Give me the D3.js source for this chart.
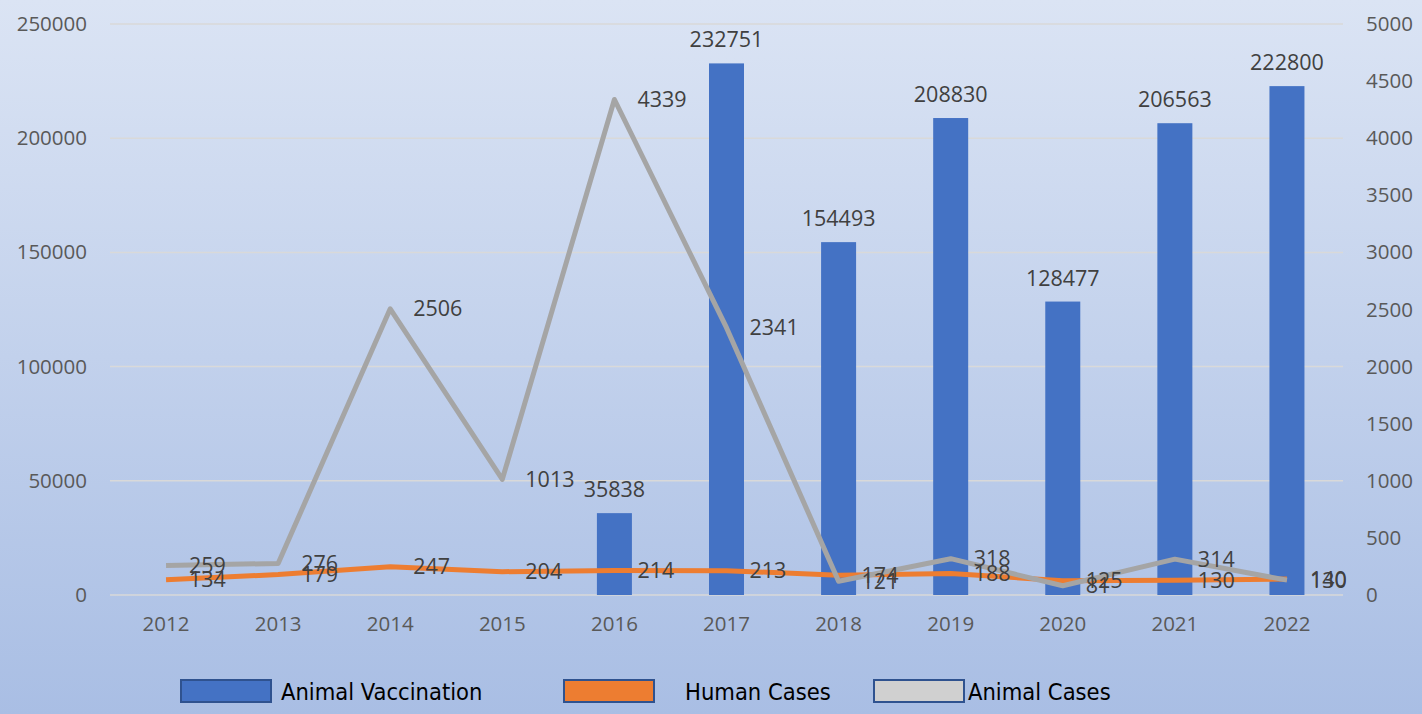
<!DOCTYPE html>
<html><head><meta charset="utf-8">
<script src="https://cdn.jsdelivr.net/npm/d3@7/dist/d3.min.js"></script>
<style>body{margin:0;padding:0;overflow:hidden}svg{display:block}</style>
</head><body>
<svg id="c" width="1422" height="714"></svg>
<script>
const years = ["2012","2013","2014","2015","2016","2017","2018","2019","2020","2021","2022"];
const animalVaccination = [null,null,null,null,35838,232751,154493,208830,128477,206563,222800];
const humanCases = [134,179,247,204,214,213,174,188,125,130,140];
const animalCases = [259,276,2506,1013,4339,2341,121,318,81,314,130];
const leftTicks = [0,50000,100000,150000,200000,250000];
const rightTicks = [0,500,1000,1500,2000,2500,3000,3500,4000,4500,5000];
const seriesNames = ["Animal Vaccination","Human Cases","Animal Cases"];

const svg = d3.select("#c");
const W = 1422, H = 714;
const defs = svg.append("defs");
const g = defs.append("linearGradient").attr("id","bg").attr("x1",0).attr("y1",0).attr("x2",0).attr("y2",1);
g.append("stop").attr("offset","0%").attr("stop-color","#dbe4f4");
g.append("stop").attr("offset","100%").attr("stop-color","#a9bee4");
svg.append("rect").attr("width",W).attr("height",H).attr("fill","url(#bg)");

const x = d3.scaleBand().domain(years).range([110,1343]);
const yL = d3.scaleLinear().domain([0,250000]).range([595,24]);
const yR = d3.scaleLinear().domain([0,5000]).range([595,24]);
const tickFont = "'Open Sans', sans-serif";
const lblFont = "'Open Sans', sans-serif";

// gridlines
svg.append("g").selectAll("line").data(leftTicks).join("line")
  .attr("x1",110).attr("x2",1343).attr("y1",d=>yL(d)).attr("y2",d=>yL(d))
  .attr("stroke","#d9d9d9").attr("stroke-width",1.5);

// axes
const axL = svg.append("g").attr("transform","translate(110,0)")
  .call(d3.axisLeft(yL).tickValues(leftTicks).tickSize(0).tickPadding(23).tickFormat(d3.format("d")));
const axR = svg.append("g").attr("transform","translate(1343,0)")
  .call(d3.axisRight(yR).tickValues(rightTicks).tickSize(0).tickPadding(23).tickFormat(d3.format("d")));
const axB = svg.append("g").attr("transform","translate(0,595)")
  .call(d3.axisBottom(x).tickSize(0).tickPadding(21));
[axL,axR,axB].forEach(a=>{
  a.select(".domain").remove();
  a.selectAll("text").attr("fill","#595959").style("font-family",tickFont).style("font-size","20.5px");
});

// bars
const bw = 35;
const barData = years.map((y,i)=>({y, v: animalVaccination[i]})).filter(d=>d.v!=null);
svg.append("g").selectAll("rect").data(barData).join("rect")
  .attr("x",d=>x(d.y)+x.bandwidth()/2-bw/2).attr("width",bw)
  .attr("y",d=>yL(d.v)).attr("height",d=>yL(0)-yL(d.v))
  .attr("fill","#4472c4");

// lines
const line = d3.line().x((d,i)=>x(years[i])+x.bandwidth()/2).y(d=>yR(d));
svg.append("path").datum(humanCases).attr("d",line).attr("fill","none")
  .attr("stroke","#ed7d31").attr("stroke-width",5).attr("stroke-linejoin","round");
svg.append("path").datum(animalCases).attr("d",line).attr("fill","none")
  .attr("stroke","#a5a5a5").attr("stroke-width",5).attr("stroke-linejoin","round");

// labels
const lab = svg.append("g").style("font-family",lblFont).style("font-size","21.5px").attr("fill","#404040");
lab.selectAll("text.b").data(barData).join("text").attr("class","b")
  .attr("x",d=>x(d.y)+x.bandwidth()/2).attr("y",d=>yL(d.v)-16)
  .attr("text-anchor","middle").text(d=>d.v);
lab.selectAll("text.h").data(humanCases).join("text").attr("class","h")
  .attr("x",(d,i)=>x(years[i])+x.bandwidth()/2+23).attr("y",d=>yR(d)).attr("dy","0.35em").text(d=>d);
lab.selectAll("text.a").data(animalCases).join("text").attr("class","a")
  .attr("x",(d,i)=>x(years[i])+x.bandwidth()/2+23).attr("y",d=>yR(d)).attr("dy","0.35em").text(d=>d);

// legend
const legColors = ["#4472c4","#ed7d31","#d0d0d0"];
const legX = [181,564,874];
const legTX = [281,685,968];
const leg = svg.append("g");
seriesNames.forEach((n,i)=>{
  leg.append("rect").attr("x",legX[i]).attr("y",680).attr("width",90).attr("height",22)
    .attr("fill",legColors[i]).attr("stroke","#2f528f").attr("stroke-width",2);
  leg.append("text").attr("x",legTX[i]).attr("y",692).attr("dy","0.35em")
    .style("font-family","'Liberation Sans Narrow','DejaVu Sans Condensed',sans-serif").style("font-size","23.5px")
    .attr("fill","#000").text(n);
});
</script>
</body></html>
